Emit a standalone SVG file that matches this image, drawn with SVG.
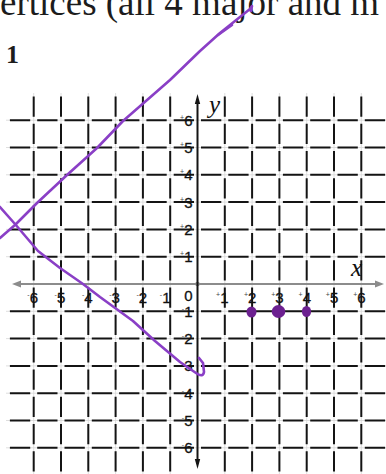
<svg xmlns="http://www.w3.org/2000/svg" width="386" height="474" viewBox="0 0 386 474">
<style>
.faint{stroke:#d6d6d6;stroke-width:0.8;fill:none}
.gv{stroke:#141414;stroke-width:2;fill:none;stroke-dasharray:20.3 7;stroke-dashoffset:-3.5}
.lbl{font-family:"Liberation Sans",Arial,sans-serif;font-size:15px;fill:#111;stroke:#111;stroke-width:0.3}
.sup{font-size:7px;fill:#444;stroke:none}
.ink{stroke:#8a3fc6;stroke-width:2.6;fill:none;stroke-linecap:round;stroke-linejoin:round}
.dot{fill:#6c2090}
</style>
<rect width="386" height="474" fill="#ffffff"/>
<g id="header">
<text x="0" y="15" font-family="Liberation Serif,'Times New Roman',serif" font-size="37" fill="#1c1c1c">ertices (all 4 major and m</text>
<text x="6" y="63" font-family="Liberation Serif,'Times New Roman',serif" font-size="26" font-weight="bold" fill="#1c1c1c">1</text>
</g>
<g id="faint-grid">
<path class="faint" d="M33.7,93V474M61,93V474M88.3,93V474M115.6,93V474M142.9,93V474M170.2,93V474M224.8,93V474M252.1,93V474M279.4,93V474M306.7,93V474M334,93V474M361.3,93V474"/>
<path class="faint" d="M6,120.2H386M6,147.5H386M6,174.8H386M6,202.1H386M6,229.4H386M6,256.7H386M6,311.3H386M6,338.6H386M6,365.9H386M6,393.2H386M6,420.5H386M6,447.8H386"/>
</g>
<g id="grid">
<path class="gv" d="M33.7,92.9V474M61,92.9V474M88.3,92.9V474M115.6,92.9V474M142.9,92.9V474M170.2,92.9V474M224.8,92.9V474M252.1,92.9V474M279.4,92.9V474M306.7,92.9V474M334,92.9V474M361.3,92.9V474"/>
<path class="gv" d="M6.4,120.2H386M6.4,147.5H386M6.4,174.8H386M6.4,202.1H386M6.4,229.4H386M6.4,256.7H386M6.4,311.3H386M6.4,338.6H386M6.4,365.9H386M6.4,393.2H386M6.4,420.5H386M6.4,447.8H386"/>
</g>
<g id="axes">
<line x1="18" y1="284" x2="378" y2="284" stroke="#8c8c8c" stroke-width="1.8"/>
<path d="M12,284 L21,280.5 L21,287.5 Z" fill="#8c8c8c"/>
<path d="M384,284 L375,280.5 L375,287.5 Z" fill="#8c8c8c"/>
<circle cx="197.5" cy="284" r="2.3" fill="#8c8c8c"/>
<line x1="197.5" y1="100" x2="197.5" y2="462" stroke="#141414" stroke-width="2"/>
<path d="M197.5,94 L194.8,104 L200.2,104 Z" fill="#141414"/>
<path d="M197.5,469 L194.8,459 L200.2,459 Z" fill="#141414"/>
<text x="209" y="113" font-family="Liberation Serif,'Times New Roman',serif" font-style="italic" font-size="25" fill="#111">y</text>
<text x="351" y="276" font-family="Liberation Serif,'Times New Roman',serif" font-style="italic" font-size="25" fill="#111">x</text>
</g>
<g id="y-labels" class="lbl" text-anchor="end">
<text x="192.5" y="125.6"><tspan class="sup" dy="-6">+</tspan><tspan dy="6">6</tspan></text>
<text x="192.5" y="152.9"><tspan class="sup" dy="-6">+</tspan><tspan dy="6">5</tspan></text>
<text x="192.5" y="180.2"><tspan class="sup" dy="-6">+</tspan><tspan dy="6">4</tspan></text>
<text x="192.5" y="207.5"><tspan class="sup" dy="-6">+</tspan><tspan dy="6">3</tspan></text>
<text x="192.5" y="234.8"><tspan class="sup" dy="-6">+</tspan><tspan dy="6">2</tspan></text>
<text x="192.5" y="262.1"><tspan class="sup" dy="-6">+</tspan><tspan dy="6">1</tspan></text>
<text x="192.5" y="316.7"><tspan class="sup" dy="-6">-</tspan><tspan dy="6">1</tspan></text>
<text x="192.5" y="344"><tspan class="sup" dy="-6">-</tspan><tspan dy="6">2</tspan></text>
<text x="192.5" y="371.3"><tspan class="sup" dy="-6">-</tspan><tspan dy="6">3</tspan></text>
<text x="192.5" y="398.6"><tspan class="sup" dy="-6">-</tspan><tspan dy="6">4</tspan></text>
<text x="192.5" y="425.9"><tspan class="sup" dy="-6">-</tspan><tspan dy="6">5</tspan></text>
<text x="192.5" y="453.2"><tspan class="sup" dy="-6">-</tspan><tspan dy="6">6</tspan></text>
</g>
<g id="x-labels" class="lbl" text-anchor="end">
<text x="38" y="302.5"><tspan class="sup" dy="-6">-</tspan><tspan dy="6">6</tspan></text>
<text x="65.3" y="302.5"><tspan class="sup" dy="-6">-</tspan><tspan dy="6">5</tspan></text>
<text x="92.6" y="302.5"><tspan class="sup" dy="-6">-</tspan><tspan dy="6">4</tspan></text>
<text x="119.9" y="302.5"><tspan class="sup" dy="-6">-</tspan><tspan dy="6">3</tspan></text>
<text x="147.2" y="302.5"><tspan class="sup" dy="-6">-</tspan><tspan dy="6">2</tspan></text>
<text x="170.5" y="302.5"><tspan class="sup" dy="-6">-</tspan><tspan dy="6">1</tspan></text>
<text x="192.5" y="301">0</text>
<text x="228.5" y="302.5"><tspan class="sup" dy="-6">+</tspan><tspan dy="6">1</tspan></text>
<text x="256.4" y="302.5"><tspan class="sup" dy="-6">+</tspan><tspan dy="6">2</tspan></text>
<text x="283.7" y="302.5"><tspan class="sup" dy="-6">+</tspan><tspan dy="6">3</tspan></text>
<text x="311" y="302.5"><tspan class="sup" dy="-6">+</tspan><tspan dy="6">4</tspan></text>
<text x="338.3" y="302.5"><tspan class="sup" dy="-6">+</tspan><tspan dy="6">5</tspan></text>
<text x="365.6" y="302.5"><tspan class="sup" dy="-6">+</tspan><tspan dy="6">6</tspan></text>
</g>
<g id="ink">
<path class="ink" d="M0,238 L15,225 L37,203 L67,175 L97,148 L123,121 L170,80 L200,51 L220,33 L250,9 L252,6 L251,11"/>
<path class="ink" stroke-width="4.2" d="M218,35 L232,25"/>
<path class="ink" d="M0,207 L15,224 L38,251 L60,268 L83,284 L100,297 L133,321 L155,341 L180,362 L196,373 Q203,378 204,372 L203,363 L199,358"/>
</g>
<g id="points">
<ellipse class="dot" cx="251.5" cy="312" rx="5" ry="5.5"/>
<ellipse class="dot" cx="278.5" cy="311.5" rx="6.8" ry="6.5"/>
<ellipse class="dot" cx="306.5" cy="311.5" rx="4.6" ry="5.6"/>
</g>
</svg>
